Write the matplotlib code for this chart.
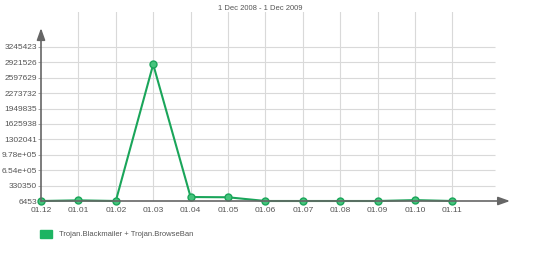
import matplotlib.pyplot as plt
from matplotlib.patches import Patch

# data
months = ["01.12", "01.01", "01.02", "01.03", "01.04", "01.05",
          "01.06", "01.07", "01.08", "01.09", "01.10", "01.11"]
values = [6453, 20000, 6453, 2880000, 90000, 85000,
          6453, 6453, 6453, 6453, 25000, 6453]
ytick_vals = [6453, 330350, 654247, 978144, 1302041, 1625938,
              1949835, 2273732, 2597629, 2921526, 3245423]
ytick_labels = ["6453", "330350", "6.54e+05", "9.78e+05", "1302041", "1625938",
                "1949835", "2273732", "2597629", "2921526", "3245423"]
series_name = "Trojan.Blackmailer + Trojan.BrowseBan"
title = "1 Dec 2008 - 1 Dec 2009"

plt.rcParams["font.family"] = ["Liberation Sans", "DejaVu Sans"]
green = "#1aa55a"
text_col = "#555555"
grid_col = "#d9d9d9"
axis_col = "#666666"

fig = plt.figure(figsize=(5.5, 2.57), dpi=100)
ax = fig.add_axes([41 / 550, 56 / 257, 469 / 550, 189 / 257])

x = list(range(len(months)))
ax.set_xlim(0, 12.54)
ax.set_ylim(6453, 3981500)

# grid
for i in x[1:]:
    ax.axvline(i, color=grid_col, lw=0.8, zorder=0)
ax.hlines(ytick_vals[1:], 0, 12.14, color=grid_col, lw=0.8, zorder=0)

ax.plot(x, values, color=green, lw=1.5, marker="o", ms=5,
        mfc="#45c47c", mec=green, mew=1.0, zorder=3, clip_on=False)

for s in ax.spines.values():
    s.set_visible(False)

# axes with arrows
ax.annotate("", xy=(1.0, 0), xytext=(0, 0), xycoords="axes fraction",
            arrowprops=dict(arrowstyle="-|>,head_length=0.7,head_width=0.25",
                            color=axis_col, lw=1.2, shrinkA=0, shrinkB=0), zorder=4)
ax.annotate("", xy=(0, 0.915), xytext=(0, 0), xycoords="axes fraction",
            arrowprops=dict(arrowstyle="-|>,head_length=0.7,head_width=0.25",
                            color=axis_col, lw=1.2, shrinkA=0, shrinkB=0), zorder=4)

ax.set_xticks(x)
ax.set_xticklabels(months)
ax.set_yticks(ytick_vals)
ax.set_yticklabels(ytick_labels)
ax.tick_params(axis="x", length=0, pad=4, labelsize=6, labelcolor=text_col)
ax.tick_params(axis="y", length=2, width=0.6, color="#999999", pad=1,
               labelsize=6, labelcolor=text_col)

fig.text(0.473, 0.965, title, ha="center", va="center", fontsize=5.5, color=text_col)

fig.legend(handles=[Patch(color="#1db462", label=series_name)],
           loc="center left", bbox_to_anchor=(0.06, 1 - 234 / 257),
           frameon=False, fontsize=5.5, labelcolor=text_col,
           handlelength=1.6, handleheight=1.3, handletextpad=0.9)

fig.savefig("out.png", dpi=100)
